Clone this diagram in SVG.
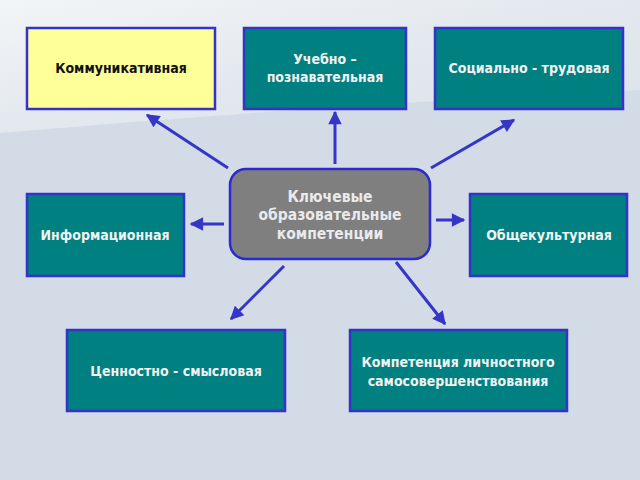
<svg xmlns="http://www.w3.org/2000/svg" width="640" height="480" viewBox="0 0 640 480">
<defs>
<linearGradient id="bgTop" x1="0" y1="0" x2="1" y2="1">
<stop offset="0" stop-color="#F2F5F7"/>
<stop offset="0.5" stop-color="#E3E8EE"/>
<stop offset="1" stop-color="#DCE3EA"/>
</linearGradient>
<marker id="ah" viewBox="0 0 10 10" refX="9" refY="5" markerWidth="5" markerHeight="4.5" orient="auto" markerUnits="strokeWidth">
<path d="M0,0 L10,5 L0,10 Z" fill="#3535C8"/>
</marker>
<style>
.box{fill:#008080;stroke:#3333CC;stroke-width:2.5}
.yel{fill:#FFFF99;stroke:#3333CC;stroke-width:2.5}
.center{fill:#7F7F7F;stroke:#2A2AD0;stroke-width:2.5}
.t{font-family:"DejaVu Sans Condensed","DejaVu Sans",sans-serif;font-weight:bold;font-size:14px;fill:#F2F2F2;text-anchor:middle}
.tk{fill:#111111}
.tc{font-size:15.5px;fill:#EAEAEA}
.c{stroke:#3535C8;stroke-width:3;fill:none;marker-end:url(#ah)}
</style>
</defs>
<rect x="0" y="0" width="640" height="480" fill="#D3DCE6"/>
<path d="M0,0 H640 V90 Q320,105 0,133 Z" fill="url(#bgTop)"/>
<g id="connectors">
<line class="c" x1="228" y1="168" x2="147" y2="115"/>
<line class="c" x1="335" y1="164" x2="335" y2="112"/>
<line class="c" x1="431" y1="168" x2="514" y2="120"/>
<line class="c" x1="224" y1="224" x2="191" y2="224"/>
<line class="c" x1="436" y1="220" x2="464" y2="220"/>
<line class="c" x1="284" y1="266" x2="231" y2="319"/>
<line class="c" x1="396" y1="262" x2="445" y2="324"/>
</g>
<g id="n-komm">
<rect class="yel" x="27" y="28" width="188" height="81"/>
<text class="t tk" x="121" y="73">Коммуникативная</text>
</g>
<g id="n-ucheb">
<rect class="box" x="244" y="28" width="162" height="81"/>
<text class="t" x="325" y="64">Учебно –</text>
<text class="t" x="325" y="82">познавательная</text>
</g>
<g id="n-soc">
<rect class="box" x="435" y="28" width="188" height="81"/>
<text class="t" x="529" y="73">Социально - трудовая</text>
</g>
<g id="n-center">
<rect class="center" x="230" y="169" width="200" height="90" rx="16"/>
<text class="t tc" x="330" y="202">Ключевые</text>
<text class="t tc" x="330" y="220">образовательные</text>
<text class="t tc" x="330" y="239">компетенции</text>
</g>
<g id="n-inform">
<rect class="box" x="27" y="194" width="157" height="82"/>
<text class="t" x="105" y="240">Информационная</text>
</g>
<g id="n-obsh">
<rect class="box" x="470" y="194" width="157" height="82"/>
<text class="t" x="549" y="240">Общекультурная</text>
</g>
<g id="n-cenn">
<rect class="box" x="67" y="330" width="218" height="81"/>
<text class="t" x="176" y="376">Ценностно - смысловая</text>
</g>
<g id="n-komp">
<rect class="box" x="350" y="330" width="217" height="81"/>
<text class="t" x="458" y="367">Компетенция личностного</text>
<text class="t" x="458" y="386">самосовершенствования</text>
</g>
</svg>
